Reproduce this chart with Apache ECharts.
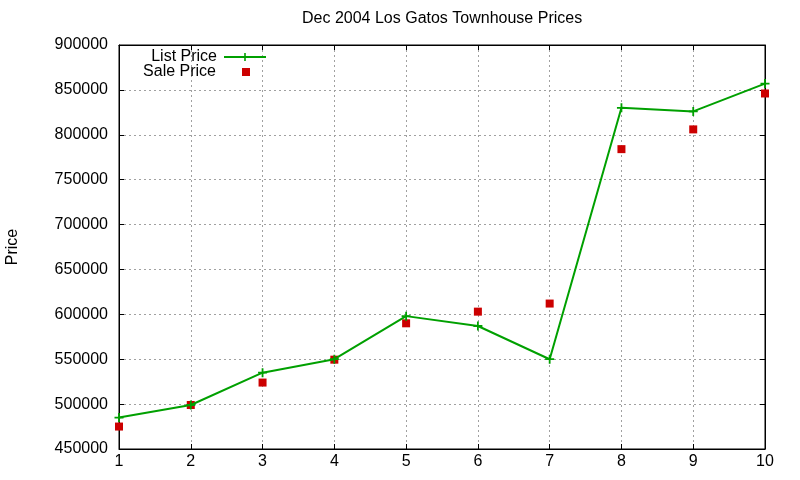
<!DOCTYPE html>
<html>
<head>
<meta charset="utf-8">
<title>Dec 2004 Los Gatos Townhouse Prices</title>
<script src="https://cdn.jsdelivr.net/npm/echarts@6/dist/echarts.min.js"></script>
<style>
  html, body { margin: 0; padding: 0; background: #fff; }
  #chart { width: 800px; height: 480px; }
</style>
</head>
<body>
<div id="chart"></div>
<script>
// house number on the x axis
var houses = [1, 2, 3, 4, 5, 6, 7, 8, 9, 10];
var listPrice = [485000, 499000, 535000, 550000, 598000, 587000, 550000, 830000, 826000, 857000];
var salePrice = [475000, 499000, 524000, 549500, 590000, 603000, 612000, 784000, 806000, 846000];

var FONT = '"Liberation Sans", Arial, sans-serif';
var PLUS = 'path://M4,0H6V4H10V6H6V10H4V6H0V4H4Z';
var SQUARE = 'path://M0,0H10V10H0Z';

var toPoints = function (vals) {
    var res = [];
    for (var i = 0; i < houses.length; i++) {
        res.push([houses[i], vals[i]]);
    }
    return res;
};

var chart = echarts.init(document.getElementById('chart'));

var tickStyle = {
    show: true,
    inside: true,
    length: 5,
    lineStyle: { color: '#000', width: 1 }
};

chart.setOption({
    animation: false,
    backgroundColor: '#fff',
    textStyle: { fontFamily: FONT },
    title: {
        text: 'Dec 2004 Los Gatos Townhouse Prices',
        left: 302,
        top: 11,
        padding: 0,
        textStyle: {
            color: '#000',
            fontSize: 16,
            fontWeight: 'normal',
            fontFamily: FONT
        }
    },
    legend: [{
        data: ['List Price'],
        orient: 'vertical',
        right: 533,
        top: 49,
        padding: 0,
        align: 'right',
        itemWidth: 42,
        itemHeight: 10,
        textStyle: { color: '#000', fontSize: 16, fontFamily: FONT, padding: [0, 2, 0, 0] }
    }, {
        data: [{ name: 'Sale Price', icon: SQUARE }],
        orient: 'vertical',
        right: 550,
        top: 64,
        padding: 0,
        align: 'right',
        itemWidth: 8,
        itemHeight: 8,
        textStyle: { color: '#000', fontSize: 16, fontFamily: FONT, padding: [0, 21, 0, 0] }
    }],
    grid: {
        left: 119,
        right: 35,
        top: 45,
        bottom: 31,
        outerBoundsMode: 'none',
        show: true,
        borderColor: '#000',
        borderWidth: 1
    },
    xAxis: [{
        type: 'value',
        min: 1,
        max: 10,
        interval: 1,
        axisLine: { show: true, lineStyle: { color: '#000', width: 1 } },
        axisTick: tickStyle,
        axisLabel: { color: '#000', fontSize: 16, margin: 5, fontFamily: FONT },
        splitLine: { show: true, lineStyle: { color: '#a0a0a0', type: [2, 3], width: 1 } }
    }, {
        type: 'value',
        position: 'top',
        min: 1,
        max: 10,
        interval: 1,
        axisLine: { show: true, lineStyle: { color: '#000' } },
        axisTick: tickStyle,
        axisLabel: { show: false },
        splitLine: { show: false }
    }],
    yAxis: [{
        type: 'value',
        min: 450000,
        max: 900000,
        interval: 50000,
        name: 'Price',
        nameLocation: 'middle',
        nameRotate: 90,
        nameGap: 98,
        nameTextStyle: { color: '#000', fontSize: 16, fontFamily: FONT },
        axisLine: { show: true, lineStyle: { color: '#000', width: 1 } },
        axisTick: tickStyle,
        axisLabel: {
            color: '#000',
            fontSize: 16,
            margin: 11,
            fontFamily: FONT,
            formatter: function (v) { return String(v); }
        },
        splitLine: { show: true, lineStyle: { color: '#a0a0a0', type: [2, 3], width: 1 } }
    }, {
        type: 'value',
        position: 'right',
        min: 450000,
        max: 900000,
        interval: 50000,
        axisLine: { show: true, lineStyle: { color: '#000' } },
        axisTick: tickStyle,
        axisLabel: { show: false },
        splitLine: { show: false }
    }],
    series: [{
        name: 'List Price',
        type: 'line',
        data: toPoints(listPrice),
        symbol: PLUS,
        symbolSize: 9,
        showSymbol: true,
        color: '#00a000',
        lineStyle: { color: '#00a000', width: 2 },
        itemStyle: { color: '#00a000' },
        emphasis: { disabled: true }
    }, {
        name: 'Sale Price',
        type: 'scatter',
        data: toPoints(salePrice),
        symbol: 'rect',
        symbolSize: 8,
        color: '#cc0000',
        itemStyle: { color: '#cc0000', opacity: 1 },
        emphasis: { disabled: true }
    }]
});
window.onresize = chart.resize;
</script>
</body>
</html>
